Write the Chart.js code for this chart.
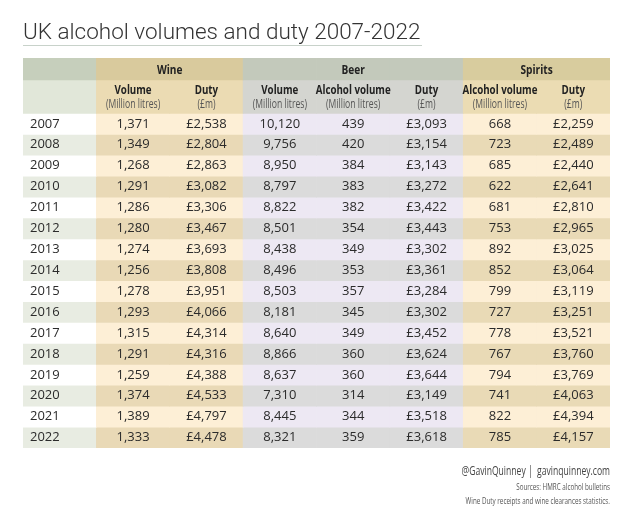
<!DOCTYPE html>
<html>
<head>
<meta charset="utf-8">
<script src="https://cdn.jsdelivr.net/npm/chart.js@4/dist/chart.umd.min.js"></script>
<style>
    body { margin: 0; background: #ffffff; }
    #wrap { width: 630px; height: 514px; }
</style>
</head>
<body>
<div id="wrap"><canvas id="dutyTable" width="630" height="514"></canvas></div>
<script>
// ============================== DATA ==============================
const years = ['2007', '2008', '2009', '2010', '2011', '2012', '2013', '2014',
               '2015', '2016', '2017', '2018', '2019', '2020', '2021', '2022'];

const wineVolume     = [1371, 1349, 1268, 1291, 1286, 1280, 1274, 1256, 1278, 1293, 1315, 1291, 1259, 1374, 1389, 1333];
const wineDuty       = [2538, 2804, 2863, 3082, 3306, 3467, 3693, 3808, 3951, 4066, 4314, 4316, 4388, 4533, 4797, 4478];
const beerVolume     = [10120, 9756, 8950, 8797, 8822, 8501, 8438, 8496, 8503, 8181, 8640, 8866, 8637, 7310, 8445, 8321];
const beerAlcohol    = [439, 420, 384, 383, 382, 354, 349, 353, 357, 345, 349, 360, 360, 314, 344, 359];
const beerDuty       = [3093, 3154, 3143, 3272, 3422, 3443, 3302, 3361, 3284, 3302, 3452, 3624, 3644, 3149, 3518, 3618];
const spiritsAlcohol = [668, 723, 685, 622, 681, 753, 892, 852, 799, 727, 778, 767, 794, 741, 822, 785];
const spiritsDuty    = [2259, 2489, 2440, 2641, 2810, 2965, 3025, 3064, 3119, 3251, 3521, 3760, 3769, 4063, 4394, 4157];

const groups = ['Wine', 'Beer', 'Spirits'];
const columnKeys = ['year', 'wineVol', 'wineDuty', 'beerVol', 'beerAlc', 'beerDuty', 'spiritsAlc', 'spiritsDuty'];
const columnGroup = ['year', 'Wine', 'Wine', 'Beer', 'Beer', 'Beer', 'Spirits', 'Spirits'];
const columnTitles = ['', 'Volume', 'Duty', 'Volume', 'Alcohol volume', 'Duty', 'Alcohol volume', 'Duty'];
const columnUnits = ['', '(Million litres)', '(£m)', '(Million litres)', '(Million litres)', '(£m)', '(Million litres)', '(£m)'];

// ============================== LAYOUT / STYLE ==============================
const HEAD1 = 1.05, HEAD2 = 1.6;   // row heights in "row units"
const TOTAL = HEAD1 + HEAD2 + years.length;

const palette = {
    head1: { year: '#c6cfbc', Wine: '#d9ca9d', Beer: '#c3c9bb', Spirits: '#d8cc9e' },
    head2: { year: '#e1e7d9', Wine: '#ebdbb3', Beer: '#d4d5d0', Spirits: '#ebdcb3' },
    light: { year: '#ffffff', Wine: '#fdefd6', Beer: '#ede8f3', Spirits: '#fdefd6' },
    dark:  { year: '#e8ece2', Wine: '#e9d9b6', Beer: '#dbdbdb', Spirits: '#e9dab6' }
};

const BODY = '"Open Sans", sans-serif';

function fmt(n) { return n.toLocaleString('en-GB'); }
function money(n) { return '£' + fmt(n); }

function rowCells(i) {
    return [years[i], fmt(wineVolume[i]), money(wineDuty[i]), fmt(beerVolume[i]), fmt(beerAlcohol[i]),
            money(beerDuty[i]), fmt(spiritsAlcohol[i]), money(spiritsDuty[i])];
}

// no condensed face installed, so squeeze Open Sans horizontally
function condensed(ctx, text, x, y, align, squeeze) {
    ctx.save();
    ctx.translate(x, y);
    ctx.scale(squeeze, 1);
    ctx.textAlign = align;
    ctx.fillText(text, 0, 0);
    ctx.restore();
}

// ============================== DATASETS ==============================
function makeRow(y0, y1, shade) {
    return {
        data: columnKeys.map(() => [y0, y1]),
        backgroundColor: columnGroup.map(g => palette[shade][g]),
        borderWidth: 0,
        grouped: false,
        barPercentage: 1,
        categoryPercentage: 1
    };
}

const datasets = [makeRow(0, HEAD1, 'head1'), makeRow(HEAD1, HEAD1 + HEAD2, 'head2')];
years.forEach((y, i) => {
    const top = HEAD1 + HEAD2 + i;
    datasets.push(makeRow(top, top + 1, i % 2 === 0 ? 'light' : 'dark'));
});

// ============================== TEXT PLUGIN ==============================
const tableText = {
    id: 'tableText',
    afterDatasetsDraw(chart) {
        const ctx = chart.ctx;
        const xs = chart.scales.x, ys = chart.scales.y;
        ctx.save();
        ctx.textBaseline = 'middle';

        // group headers
        ctx.fillStyle = '#222';
        ctx.font = 'bold 13px ' + BODY;
        groups.forEach(g => {
            const idx = columnGroup.map((c, i) => c === g ? i : -1).filter(i => i >= 0);
            const cx = (xs.getPixelForValue(idx[0]) + xs.getPixelForValue(idx[idx.length - 1])) / 2;
            condensed(ctx, g, cx, ys.getPixelForValue(HEAD1 / 2) + 1, 'center', 0.78);
        });

        // column headers
        const yTitle = ys.getPixelForValue(HEAD1 + HEAD2 * 0.32);
        const yUnit = ys.getPixelForValue(HEAD1 + HEAD2 * 0.74);
        columnTitles.forEach((t, i) => {
            const cx = xs.getPixelForValue(i);
            ctx.fillStyle = '#222';
            ctx.font = 'bold 13px ' + BODY;
            condensed(ctx, t, cx, yTitle, 'center', 0.75);
            ctx.fillStyle = '#555';
            ctx.font = '12px ' + BODY;
            condensed(ctx, columnUnits[i], cx, yUnit, 'center', 0.72);
        });

        // data cells
        ctx.fillStyle = '#2b2b2b';
        ctx.font = '13px ' + BODY;
        years.forEach((y, r) => {
            const cy = ys.getPixelForValue(HEAD1 + HEAD2 + r + 0.5);
            rowCells(r).forEach((txt, c) => {
                if (c === 0) {
                    ctx.textAlign = 'left';
                    ctx.fillText(txt, chart.chartArea.left + 7, cy);
                } else {
                    ctx.textAlign = 'center';
                    ctx.fillText(txt, xs.getPixelForValue(c), cy);
                }
            });
        });
        ctx.restore();
    },
    afterDraw(chart) {
        const ctx = chart.ctx;
        const area = chart.chartArea;
        ctx.save();
        // title + rule
        ctx.fillStyle = '#333';
        ctx.font = '300 22.5px Roboto, sans-serif';
        ctx.textAlign = 'left';
        ctx.textBaseline = 'alphabetic';
        ctx.fillText('UK alcohol volumes and duty 2007-2022', area.left, 39);
        ctx.strokeStyle = '#c8d2ca';
        ctx.lineWidth = 1;
        ctx.beginPath();
        ctx.moveTo(area.left, 45.5);
        ctx.lineTo(422, 45.5);
        ctx.stroke();

        // footer
        ctx.textBaseline = 'middle';
        ctx.fillStyle = '#444';
        ctx.font = '13px ' + BODY;
        condensed(ctx, '@GavinQuinney |  gavinquinney.com', area.right, 471, 'right', 0.66);
        ctx.fillStyle = '#555';
        ctx.font = '9.5px ' + BODY;
        condensed(ctx, 'Sources: HMRC alcohol bulletins', area.right, 487, 'right', 0.66);
        condensed(ctx, 'Wine Duty receipts and wine clearances statistics.', area.right, 501, 'right', 0.66);
        ctx.restore();
    }
};

// ============================== CHART ==============================
window.addEventListener('DOMContentLoaded', () => {
    const ctx = document.getElementById('dutyTable').getContext('2d');
    new Chart(ctx, {
        type: 'bar',
        data: { labels: columnKeys, datasets: datasets },
        options: {
            responsive: false,
            animation: false,
            layout: { padding: { left: 23, right: 20, top: 58, bottom: 66 } },
            scales: {
                x: { type: 'category', display: false },
                y: { type: 'linear', display: false, reverse: true, min: 0, max: TOTAL }
            },
            plugins: { legend: { display: false }, tooltip: { enabled: false } }
        },
        plugins: [tableText]
    });
});
</script>
</body>
</html>
